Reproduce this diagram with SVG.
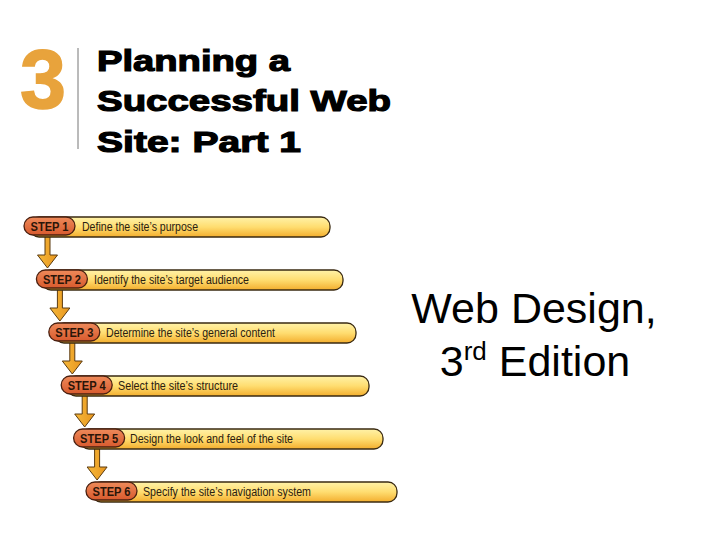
<svg xmlns="http://www.w3.org/2000/svg" width="720" height="540" viewBox="0 0 720 540">
<defs>
<linearGradient id="barG" x1="0" y1="0" x2="0" y2="1">
<stop offset="0" stop-color="#FFF2A8"/>
<stop offset="0.5" stop-color="#FFDD70"/>
<stop offset="1" stop-color="#F3AE2E"/>
</linearGradient>
<linearGradient id="pillG" x1="0" y1="0" x2="0" y2="1">
<stop offset="0" stop-color="#EE8A5A"/>
<stop offset="1" stop-color="#D85A2E"/>
</linearGradient>
<linearGradient id="arrG" x1="0" y1="0" x2="1" y2="0">
<stop offset="0" stop-color="#F6B83A"/>
<stop offset="1" stop-color="#E8961E"/>
</linearGradient>
</defs>
<style>
.bar{fill:url(#barG);stroke:#3A2A12;stroke-width:1.3}
.pill{fill:url(#pillG);stroke:#4A2010;stroke-width:1.3}
.arr{fill:url(#arrG);stroke:#5A3A10;stroke-width:1}
.ps{font-family:"Liberation Sans",Arial,sans-serif;font-weight:bold;font-size:12px;fill:#2A1508;text-anchor:middle}
.st{font-family:"Liberation Sans",Arial,sans-serif;font-size:12px;fill:#2A2010}
.ttl{font-family:"Liberation Sans",Arial,sans-serif;font-weight:bold;font-size:30px;fill:#000;stroke:#000;stroke-width:1.2}
.ed{font-family:"Liberation Sans",Arial,sans-serif;font-size:43px;fill:#000;text-anchor:middle}
</style>
<rect width="720" height="540" fill="#fff"/>
<g id="title">
<text x="20" y="108" font-family="Liberation Sans, Arial, sans-serif" font-weight="bold" font-size="84" fill="#E8A33C" stroke="#E8A33C" stroke-width="1.5" textLength="46" lengthAdjust="spacingAndGlyphs">3</text>
<line x1="78" y1="48" x2="78" y2="149" stroke="#777" stroke-width="1"/>
<text class="ttl" x="97" y="71" textLength="193" lengthAdjust="spacingAndGlyphs">Planning a</text>
<text class="ttl" x="97" y="111" textLength="294" lengthAdjust="spacingAndGlyphs">Successful Web</text>
<text class="ttl" x="97" y="152" textLength="204" lengthAdjust="spacingAndGlyphs">Site: Part 1</text>
</g>
<g id="edition">
<text class="ed" x="534" y="323">Web Design,</text>
<text class="ed" x="535" y="376">3<tspan font-size="26" dy="-16">rd</tspan><tspan dy="16"> Edition</tspan></text>
</g>
<g id="connectors">
<path class="arr" d="M45,235 V255 H37.5 L47.5,268 L57.5,255 H50 V235 Z"/>
<path class="arr" d="M57.4,288 V308 H49.9 L59.9,321 L69.9,308 H62.4 V288 Z"/>
<path class="arr" d="M69.8,341 V361 H62.3 L72.3,374 L82.3,361 H74.8 V341 Z"/>
<path class="arr" d="M82.2,394 V414 H74.7 L84.7,427 L94.7,414 H87.2 V394 Z"/>
<path class="arr" d="M94.6,447 V467 H87.1 L97.1,480 L107.1,467 H99.6 V447 Z"/>
</g>
<g id="step1">
<rect class="bar" x="30" y="217" width="300" height="20" rx="9"/>
<rect class="pill" x="24" y="217" width="51" height="18" rx="9"/>
<text class="ps" x="49.5" y="230.5" textLength="38" lengthAdjust="spacingAndGlyphs">STEP 1</text>
<text class="st" x="82" y="231" textLength="116" lengthAdjust="spacingAndGlyphs">Define the site’s purpose</text>
</g>
<g id="step2">
<rect class="bar" x="42" y="270" width="301" height="20" rx="9"/>
<rect class="pill" x="36.4" y="270" width="51" height="18" rx="9"/>
<text class="ps" x="61.9" y="283.5" textLength="38" lengthAdjust="spacingAndGlyphs">STEP 2</text>
<text class="st" x="94" y="284" textLength="155" lengthAdjust="spacingAndGlyphs">Identify the site’s target audience</text>
</g>
<g id="step3">
<rect class="bar" x="55" y="323" width="301" height="20" rx="9"/>
<rect class="pill" x="48.8" y="323" width="51" height="18" rx="9"/>
<text class="ps" x="74.3" y="336.5" textLength="38" lengthAdjust="spacingAndGlyphs">STEP 3</text>
<text class="st" x="106" y="337" textLength="169" lengthAdjust="spacingAndGlyphs">Determine the site’s general content</text>
</g>
<g id="step4">
<rect class="bar" x="67" y="376" width="302" height="20" rx="9"/>
<rect class="pill" x="61.2" y="376" width="51" height="18" rx="9"/>
<text class="ps" x="86.7" y="389.5" textLength="38" lengthAdjust="spacingAndGlyphs">STEP 4</text>
<text class="st" x="118" y="390" textLength="120" lengthAdjust="spacingAndGlyphs">Select the site’s structure</text>
</g>
<g id="step5">
<rect class="bar" x="80" y="429" width="303" height="20" rx="9"/>
<rect class="pill" x="73.6" y="429" width="51" height="18" rx="9"/>
<text class="ps" x="99.1" y="442.5" textLength="38" lengthAdjust="spacingAndGlyphs">STEP 5</text>
<text class="st" x="130" y="443" textLength="163" lengthAdjust="spacingAndGlyphs">Design the look and feel of the site</text>
</g>
<g id="step6">
<rect class="bar" x="92" y="482" width="305" height="20" rx="9"/>
<rect class="pill" x="86" y="482" width="51" height="18" rx="9"/>
<text class="ps" x="111.5" y="495.5" textLength="38" lengthAdjust="spacingAndGlyphs">STEP 6</text>
<text class="st" x="143" y="496" textLength="168" lengthAdjust="spacingAndGlyphs">Specify the site’s navigation system</text>
</g>
</svg>
